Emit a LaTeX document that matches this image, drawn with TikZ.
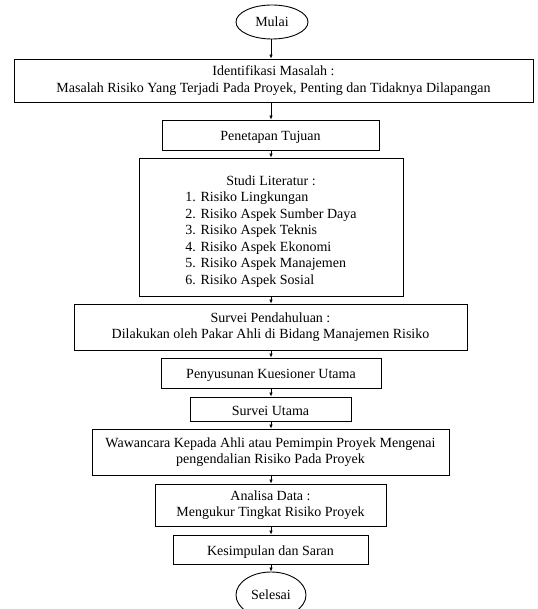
\documentclass[tikz,border=0pt]{standalone}
\usepackage{fontspec}
\setmainfont{Liberation Serif}
\usetikzlibrary{arrows.meta,shapes.geometric}
\begin{document}
\begin{tikzpicture}[x=1pt,y=-1pt,
  txt/.style={font=\fontsize{14}{16.5}\selectfont},
  box/.style={draw,line width=0.9pt,inner sep=0pt,align=center,txt,
    execute at begin node={\rule{0pt}{14pt}}},
  oval/.style={draw,ellipse,line width=0.9pt,inner sep=0pt,txt},
  arr/.style={-{Latex[length=4pt,width=3.5pt]},line width=0.6pt}]
\useasboundingbox (0,0) rectangle (537,609);
\coordinate (axis) at (271,0);
\node[oval,minimum width=72pt,minimum height=34pt] (mulai) at (272,22) {Mulai};
\node[box,minimum width=519pt,minimum height=43pt] (ident) at (273.5,80.5)
  {Identifikasi Masalah :\\Masalah Risiko Yang Terjadi Pada Proyek, Penting dan Tidaknya Dilapangan};
\node[box,minimum width=217pt,minimum height=30pt] (tujuan) at (270.5,135) {Penetapan Tujuan};
\node[box,minimum width=264pt,minimum height=138pt] (studi) at (271,227)
  {\begin{tabular}{@{}l@{}}\multicolumn{1}{@{}c@{}}{\rule{0pt}{20pt}Studi Literatur :}\\
   1. Risiko Lingkungan\\
   2. Risiko Aspek Sumber Daya\\
   3. Risiko Aspek Teknis\\
   4. Risiko Aspek Ekonomi\\
   5. Risiko Aspek Manajemen\\
   6. Risiko Aspek Sosial\end{tabular}};
\node[box,minimum width=393pt,minimum height=46pt] (pendahuluan) at (270.5,327)
  {Survei Pendahuluan :\\Dilakukan oleh Pakar Ahli di Bidang Manajemen Risiko};
\node[box,minimum width=220pt,minimum height=30pt] (kuesioner) at (271,373) {Penyusunan Kuesioner Utama};
\node[box,minimum width=161pt,minimum height=24pt] (utama) at (270.5,409) {Survei Utama};
\node[box,minimum width=357pt,minimum height=46pt] (wawancara) at (270.5,452)
  {Wawancara Kepada Ahli atau Pemimpin Proyek Mengenai\\pengendalian Risiko Pada Proyek};
\node[box,minimum width=231pt,minimum height=42pt] (analisa) at (270.5,505)
  {Analisa Data :\\Mengukur Tingkat Risiko Proyek};
\node[box,minimum width=195pt,minimum height=29pt] (simpulan) at (270.5,549.5) {Kesimpulan dan Saran};
\node[oval,minimum width=70pt,minimum height=46pt] (selesai) at (271,595) {Selesai};
\foreach \a/\b in {mulai/ident,ident/tujuan,tujuan/studi,studi/pendahuluan,pendahuluan/kuesioner,
  kuesioner/utama,utama/wawancara,wawancara/analisa,analisa/simpulan,simpulan/selesai}
  \draw[arr] (\a.south -| axis) -- (\b.north -| axis);
\end{tikzpicture}
\end{document}
